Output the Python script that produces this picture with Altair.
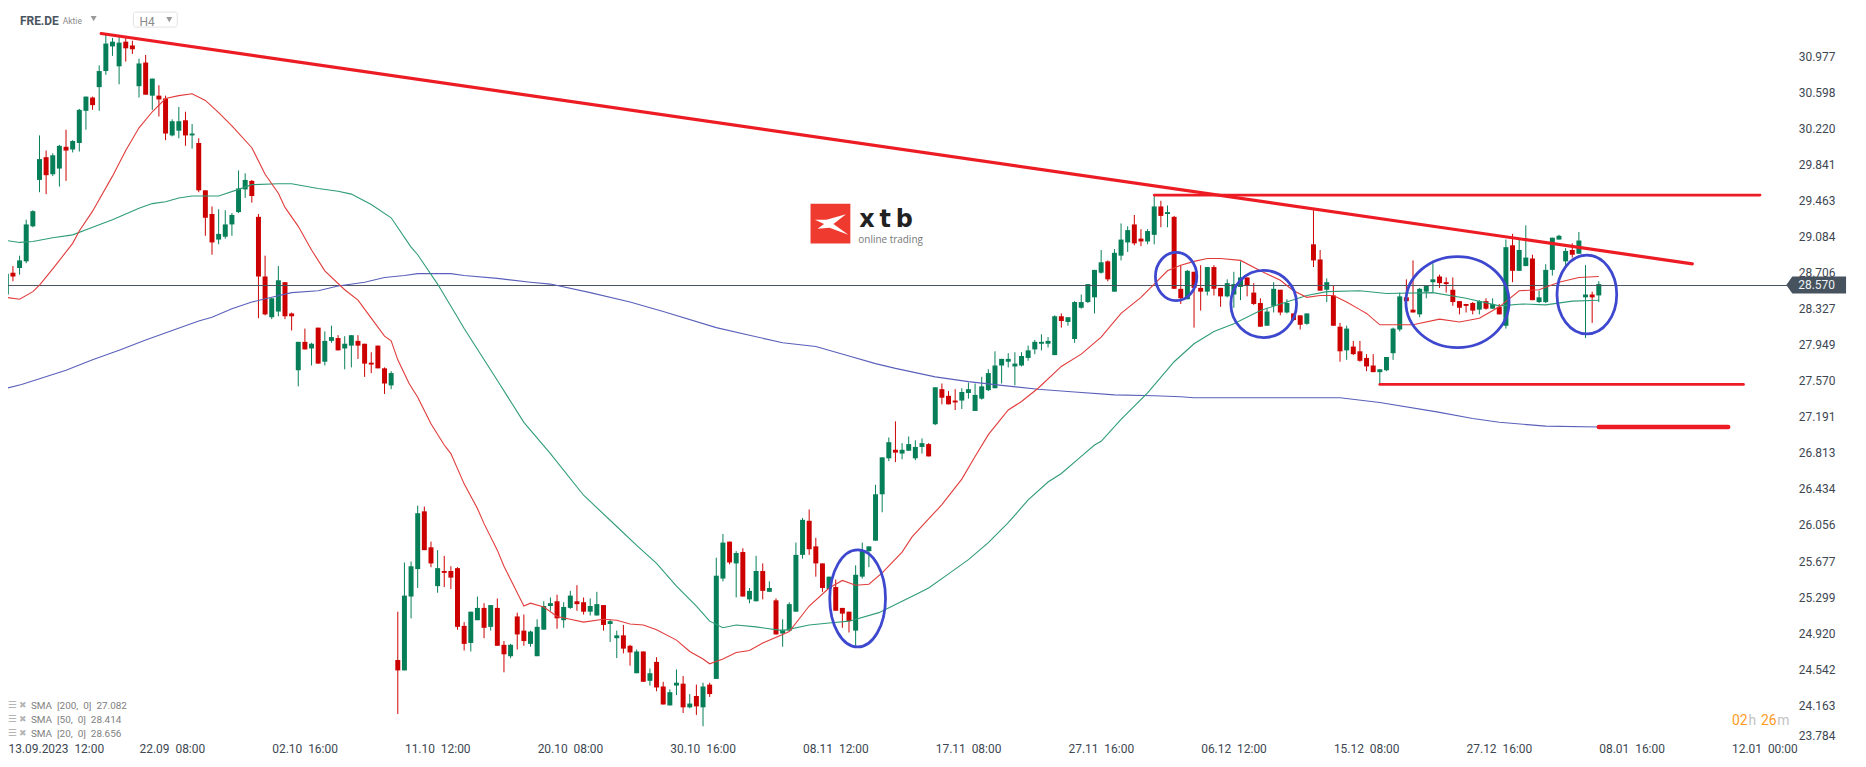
import altair as alt
import pandas as pd

# candles, one per 4h bar, prices
opens = [
    28.47, 28.70, 28.75, 28.82, 29.19, 29.68, 29.92, 29.74, 29.80, 30.03,
    30.00, 30.07, 30.41, 30.55, 30.66, 30.83, 31.09, 30.88, 31.14, 31.10,
    30.67, 30.92, 30.57, 30.57, 30.54, 30.15, 30.20, 30.31, 30.15, 30.07,
    29.57, 29.32, 29.05, 29.08, 29.21, 29.34, 29.58, 29.67, 29.29, 28.66,
    28.23, 28.29, 28.60, 28.27, 27.67, 27.97, 27.90, 28.12, 27.76, 27.98,
    28.01, 27.90, 27.93, 27.98, 27.95, 27.75, 27.93, 27.69, 27.51, 24.61,
    24.50, 25.28, 25.57, 26.18, 25.80, 25.39, 25.55, 25.55, 25.58, 24.97,
    24.79, 25.03, 25.16, 24.96, 25.16, 24.77, 24.65, 25.07, 24.92, 24.78,
    24.65, 24.93, 25.18, 25.23, 25.03, 25.16, 25.23, 25.22, 25.12, 25.08,
    25.19, 24.99, 24.84, 24.87, 24.76, 24.47, 24.70, 24.39, 24.59, 24.33,
    24.13, 24.34, 24.36, 24.11, 24.23, 24.11, 24.35, 24.41, 25.47, 25.86,
    25.63, 25.75, 25.25, 25.23, 25.55, 25.33, 25.24, 24.89, 24.92, 25.12,
    25.72, 26.08, 25.81, 25.63, 25.36, 25.38, 25.16, 25.12, 24.92, 25.49,
    25.76, 25.87, 26.36, 26.74, 26.83, 26.79, 26.82, 26.74, 26.86, 26.89,
    27.10, 27.47, 27.40, 27.35, 27.35, 27.43, 27.24, 27.37, 27.46, 27.48,
    27.72, 27.76, 27.71, 27.72, 27.80, 27.89, 27.95, 27.95, 27.83, 28.24,
    28.18, 28.00, 28.33, 28.39, 28.44, 28.70, 28.82, 28.50, 28.88, 29.02,
    29.21, 29.06, 29.03, 29.10, 29.40, 29.32, 29.29, 28.53, 28.42, 28.71,
    28.54, 28.50, 28.76, 28.54, 28.45, 28.47, 28.55, 28.65, 28.49, 28.38,
    28.14, 28.35, 28.52, 28.28, 28.27, 28.25, 28.16, 29.00, 28.84, 28.52,
    28.46, 28.13, 27.88, 27.92, 27.87, 27.80, 27.72, 27.65, 27.67, 27.85,
    28.10, 28.44, 28.31, 28.26, 28.50, 28.60, 28.66, 28.60, 28.52, 28.40,
    28.37, 28.38, 28.31, 28.40, 28.32, 28.34, 28.14, 28.99, 28.72, 28.77,
    28.85, 28.39, 28.39, 28.73, 29.05, 28.82, 28.94, 28.90, 28.44, 28.47,
    28.46,
]
closes = [
    28.69, 28.66, 28.83, 29.21, 29.35, 29.90, 29.73, 29.94, 30.04, 29.99,
    30.09, 30.42, 30.56, 30.47, 30.83, 31.12, 31.14, 31.13, 31.07, 31.06,
    30.91, 30.58, 30.75, 30.53, 30.17, 30.30, 30.30, 30.15, 30.17, 29.57,
    29.28, 29.02, 29.11, 29.21, 29.31, 29.59, 29.68, 29.51, 28.66, 28.26,
    28.43, 28.62, 28.24, 28.24, 27.97, 27.89, 27.95, 27.74, 27.98, 28.02,
    27.88, 27.95, 28.04, 27.93, 27.74, 27.73, 27.69, 27.53, 27.64, 24.50,
    25.29, 25.60, 26.16, 25.77, 25.63, 25.58, 25.53, 25.48, 24.96, 24.78,
    25.12, 25.16, 24.95, 25.19, 24.76, 24.67, 24.77, 24.88, 24.81, 24.91,
    24.96, 25.18, 25.21, 25.05, 25.17, 25.29, 25.20, 25.12, 25.18, 25.20,
    24.98, 25.02, 24.87, 24.73, 24.69, 24.70, 24.38, 24.47, 24.32, 24.14,
    24.27, 24.37, 24.11, 24.15, 24.12, 24.33, 24.25, 25.50, 25.85, 25.64,
    25.74, 25.28, 25.34, 25.55, 25.34, 25.37, 24.88, 24.93, 25.20, 25.72,
    26.09, 25.78, 25.63, 25.37, 25.49, 25.13, 25.10, 25.02, 25.51, 25.77,
    25.81, 26.36, 26.75, 26.91, 26.80, 26.83, 26.89, 26.86, 26.90, 26.76,
    27.49, 27.38, 27.31, 27.33, 27.44, 27.47, 27.41, 27.50, 27.64, 27.72,
    27.79, 27.79, 27.74, 27.82, 27.88, 27.97, 27.97, 27.98, 28.24, 28.19,
    28.23, 28.39, 28.39, 28.58, 28.73, 28.81, 28.63, 28.91, 29.05, 29.15,
    29.01, 29.03, 29.14, 29.40, 29.30, 29.34, 28.53, 28.43, 28.72, 28.54,
    28.50, 28.76, 28.53, 28.45, 28.59, 28.58, 28.65, 28.57, 28.37, 28.13,
    28.29, 28.53, 28.28, 28.38, 28.20, 28.15, 28.27, 28.83, 28.51, 28.60,
    28.14, 27.87, 28.11, 27.84, 27.77, 27.71, 27.65, 27.68, 27.81, 28.11,
    28.45, 28.40, 28.28, 28.53, 28.56, 28.63, 28.59, 28.58, 28.39, 28.33,
    28.35, 28.30, 28.40, 28.32, 28.37, 28.26, 28.97, 28.72, 28.94, 28.86,
    28.41, 28.44, 28.73, 29.07, 29.09, 28.93, 28.89, 29.04, 28.47, 28.44,
    28.58,
]
highs = [
    28.69, 28.77, 28.88, 29.26, 29.36, 30.15, 29.99, 29.96, 30.05, 30.21,
    30.10, 30.43, 30.56, 30.56, 30.89, 31.22, 31.18, 31.19, 31.18, 31.15,
    30.96, 31.00, 30.75, 30.68, 30.57, 30.32, 30.45, 30.40, 30.27, 30.12,
    29.57, 29.40, 29.37, 29.36, 29.33, 29.78, 29.75, 29.68, 29.32, 28.88,
    28.43, 28.77, 28.60, 28.28, 27.97, 28.11, 27.96, 28.12, 28.08, 28.14,
    28.04, 28.03, 28.04, 28.04, 27.95, 27.86, 27.93, 27.70, 27.66, 25.12,
    25.64, 25.65, 26.24, 26.23, 25.86, 25.77, 25.71, 25.60, 25.59, 25.01,
    25.12, 25.28, 25.21, 25.19, 25.26, 24.81, 24.78, 25.11, 25.09, 24.92,
    25.04, 25.23, 25.27, 25.30, 25.22, 25.34, 25.40, 25.27, 25.26, 25.33,
    25.19, 25.04, 24.92, 24.98, 24.77, 24.72, 24.70, 24.52, 24.64, 24.38,
    24.30, 24.51, 24.44, 24.25, 24.35, 24.37, 24.37, 25.69, 25.94, 25.86,
    25.76, 25.79, 25.37, 25.71, 25.63, 25.44, 25.26, 25.04, 25.22, 25.85,
    26.11, 26.20, 25.90, 25.63, 25.49, 25.46, 25.16, 25.12, 25.61, 25.85,
    25.81, 26.46, 26.75, 26.96, 27.13, 26.90, 26.97, 26.93, 26.95, 26.90,
    27.49, 27.53, 27.45, 27.47, 27.48, 27.54, 27.53, 27.60, 27.68, 27.87,
    27.79, 27.85, 27.86, 27.86, 27.93, 27.99, 28.05, 28.02, 28.25, 28.27,
    28.23, 28.40, 28.47, 28.58, 28.73, 28.94, 28.83, 28.95, 29.22, 29.19,
    29.31, 29.16, 29.16, 29.51, 29.46, 29.41, 29.30, 28.78, 28.73, 28.71,
    28.78, 28.76, 28.78, 28.54, 28.63, 28.71, 28.82, 28.65, 28.59, 28.43,
    28.33, 28.60, 28.52, 28.42, 28.27, 28.25, 28.27, 29.36, 28.94, 28.64,
    28.56, 28.17, 28.14, 27.98, 27.98, 27.84, 27.84, 27.68, 27.81, 28.12,
    28.49, 28.63, 28.83, 28.54, 28.57, 28.80, 28.68, 28.65, 28.65, 28.40,
    28.37, 28.39, 28.41, 28.43, 28.43, 28.37, 29.05, 29.11, 29.05, 29.20,
    28.89, 28.51, 28.79, 29.07, 29.10, 28.96, 29.01, 29.13, 28.78, 28.50,
    28.61,
]
lows = [
    28.44, 28.61, 28.68, 28.80, 29.18, 29.55, 29.53, 29.72, 29.61, 29.67,
    29.97, 29.98, 30.21, 30.42, 30.41, 30.79, 30.99, 30.69, 30.93, 31.01,
    30.55, 30.58, 30.42, 30.35, 30.10, 30.14, 30.12, 30.04, 30.01, 29.55,
    29.09, 28.89, 29.00, 29.06, 29.09, 29.33, 29.49, 29.44, 28.22, 28.25,
    28.21, 28.24, 28.21, 28.09, 27.50, 27.89, 27.72, 27.74, 27.72, 27.96,
    27.88, 27.68, 27.70, 27.79, 27.60, 27.64, 27.69, 27.42, 27.47, 24.04,
    24.50, 25.05, 25.37, 25.77, 25.59, 25.32, 25.38, 25.36, 24.93, 24.71,
    24.70, 25.03, 24.84, 24.92, 24.76, 24.48, 24.63, 24.72, 24.76, 24.75,
    24.65, 24.93, 25.13, 24.94, 24.95, 25.15, 25.13, 25.09, 25.08, 25.08,
    24.92, 24.80, 24.63, 24.68, 24.55, 24.47, 24.38, 24.34, 24.28, 24.14,
    24.13, 24.24, 24.05, 24.10, 24.03, 23.91, 24.22, 24.41, 25.44, 25.62,
    25.27, 25.28, 25.21, 25.23, 25.25, 25.33, 24.88, 24.75, 24.92, 25.12,
    25.68, 25.72, 25.49, 25.33, 25.36, 25.13, 24.95, 24.90, 24.76, 25.47,
    25.59, 25.87, 26.17, 26.71, 26.70, 26.73, 26.82, 26.72, 26.79, 26.76,
    27.09, 27.31, 27.31, 27.25, 27.26, 27.37, 27.24, 27.36, 27.45, 27.48,
    27.53, 27.70, 27.51, 27.71, 27.77, 27.84, 27.88, 27.91, 27.83, 28.12,
    28.14, 27.96, 28.32, 28.38, 28.27, 28.69, 28.61, 28.50, 28.83, 28.92,
    28.99, 28.98, 29.00, 29.00, 29.18, 29.18, 28.53, 28.37, 28.42, 28.12,
    28.30, 28.46, 28.46, 28.34, 28.44, 28.33, 28.41, 28.45, 28.36, 28.13,
    28.14, 28.28, 28.25, 28.27, 28.19, 28.10, 28.15, 28.76, 28.51, 28.39,
    28.14, 27.76, 27.78, 27.83, 27.76, 27.66, 27.65, 27.51, 27.66, 27.78,
    28.08, 28.38, 28.28, 28.23, 28.43, 28.49, 28.54, 28.49, 28.35, 28.26,
    28.28, 28.26, 28.26, 28.31, 28.32, 28.26, 28.11, 28.60, 28.72, 28.77,
    28.41, 28.38, 28.38, 28.67, 29.05, 28.78, 28.86, 28.90, 28.01, 28.17,
    28.39,
]

# moving averages as (bar index, price)
sma20_i = [0, 2, 4, 5, 7, 10, 11, 13, 16, 18, 20, 22, 24, 26, 28, 30, 32, 34, 37, 39,
           41, 42, 44, 46, 48, 51, 53, 55, 57, 58, 59, 60.7, 62, 64, 66, 67, 69, 71, 72, 74,
           75, 77, 78, 79, 81, 83, 85, 87, 90, 92, 94, 96, 98, 101, 103, 105, 106, 108, 110, 112,
           114, 117, 118, 121, 124, 126, 128, 130, 132, 135, 136.5, 139, 141, 144, 146, 148, 151, 153, 155.5, 159,
           162, 165, 168, 171, 173, 175, 177, 179, 181, 183, 186, 189, 192, 194, 196, 198, 200, 202, 204, 205,
           207, 209, 212, 216, 219, 222, 225, 228, 231, 234, 237, 240]
sma20_p = [28.44, 28.42, 28.50, 28.57, 28.74, 29.01, 29.14, 29.35, 29.72, 29.99, 30.23, 30.40, 30.54, 30.57, 30.59, 30.52, 30.39, 30.25, 30.02, 29.74,
           29.54, 29.39, 29.19, 28.94, 28.72, 28.52, 28.41, 28.22, 28.03, 27.98, 27.78, 27.53, 27.385, 27.105, 26.88, 26.79, 26.47, 26.21, 26.05, 25.77,
           25.60, 25.32, 25.18, 25.21, 25.17, 25.07, 25.04, 25.01, 25.04, 25.03, 24.99, 24.98, 24.93, 24.82, 24.70, 24.62, 24.57, 24.62, 24.69, 24.71,
           24.79, 24.88, 24.91, 25.18, 25.37, 25.45, 25.40, 25.41, 25.53, 25.75, 25.91, 26.10, 26.25, 26.52, 26.76, 26.99, 27.25, 27.34, 27.48, 27.71,
           27.84, 28.02, 28.27, 28.44, 28.58, 28.72, 28.78, 28.82, 28.85, 28.85, 28.83, 28.72, 28.62, 28.51, 28.44, 28.46, 28.46, 28.39, 28.31, 28.27,
           28.15, 28.15, 28.15, 28.21, 28.18, 28.22, 28.34, 28.51, 28.52, 28.60, 28.65, 28.66]

sma50_i = [0, 2, 4, 7, 10, 13, 16, 20, 22, 24, 26, 28, 32, 35, 37, 41, 43, 47, 50, 52,
           55, 58, 61, 62, 65, 68, 69, 74.3, 78, 82, 87, 92, 95, 98, 101, 104, 106, 108, 110, 113,
           117, 121, 124, 127, 131.5, 135, 137, 139, 142, 145, 148, 151, 154, 157, 159, 162, 164, 165, 168, 172,
           176, 179, 182, 185, 189, 192, 196, 199, 204, 208, 215, 220, 225, 228.5, 232, 236, 240]
sma50_p = [29.04, 29.02, 29.03, 29.07, 29.10, 29.18, 29.26, 29.38, 29.43, 29.45, 29.49, 29.51, 29.51, 29.58, 29.63, 29.64, 29.64, 29.59, 29.56, 29.53,
           29.42, 29.28, 28.97, 28.89, 28.58, 28.23, 28.11, 27.53, 27.12, 26.79, 26.35, 26.02, 25.82, 25.63, 25.39, 25.18, 25.02, 24.95, 24.98, 24.96,
           24.92, 24.98, 25.00, 25.02, 25.11, 25.23, 25.30, 25.37, 25.52, 25.67, 25.85, 26.06, 26.30, 26.49, 26.58, 26.76, 26.88, 26.92, 27.15, 27.43,
           27.76, 27.95, 28.08, 28.16, 28.30, 28.37, 28.46, 28.50, 28.51, 28.48, 28.49, 28.43, 28.35, 28.37, 28.36, 28.40, 28.41]

sma200_i = [0, 2.3, 9, 13, 17, 21, 25, 29, 31, 34, 37, 40, 43, 47, 50, 54, 57, 60, 62, 67,
            69, 74, 79, 82, 88, 94, 99, 107, 112, 117, 122, 127, 131, 134, 140, 145, 150, 155.5, 161, 167,
            173, 177, 179, 201, 207, 215.6, 221, 225, 232, 240]
sma200_p = [27.48, 27.52, 27.67, 27.78, 27.88, 27.99, 28.09, 28.19, 28.23, 28.32, 28.39, 28.44, 28.49, 28.51, 28.56, 28.60, 28.65, 28.67, 28.69, 28.69,
            28.67, 28.64, 28.60, 28.58, 28.49, 28.39, 28.29, 28.12, 28.04, 27.96, 27.92, 27.82, 27.74, 27.69, 27.60, 27.55, 27.51, 27.47, 27.44, 27.41,
            27.40, 27.39, 27.38, 27.38, 27.33, 27.23, 27.16, 27.12, 27.08, 27.07]

# drawn trendlines: start and end as (bar index, price)
trend_names = ["down", "top", "bottom", "sma"]
trend_i0 = [14.3, 173, 207, 240]
trend_i1 = [254.1, 264.3, 261.8, 259.5]
trend_p0 = [31.226, 29.52, 27.52, 27.07]
trend_p1 = [28.794, 29.52, 27.52, 27.07]
trend_w = [3.2, 2.8, 2.8, 4.5]

# blue circles: centre (bar index, price) and radii in pixels
oval_i = [128.3, 176.3, 189.5, 218.7, 238.2]
oval_p = [25.26, 28.66, 28.37, 28.39, 28.47]
oval_rx = [28, 20.8, 33, 51.8, 30]
oval_ry = [48.7, 24.2, 33.7, 45.7, 39.5]

y_ticks = [30.977, 30.598, 30.220, 29.841, 29.463, 29.084, 28.706, 28.327, 27.949, 27.570,
           27.191, 26.813, 26.434, 26.056, 25.677, 25.299, 24.920, 24.542, 24.163, 23.846]
x_labels = ["13.09.2023\u00a0\u00a012:00", "22.09\u00a0\u00a008:00", "02.10\u00a0\u00a016:00", "11.10\u00a0\u00a012:00",
            "20.10\u00a0\u00a008:00", "30.10\u00a0\u00a016:00", "08.11\u00a0\u00a012:00", "17.11\u00a0\u00a008:00",
            "27.11\u00a0\u00a016:00", "06.12\u00a0\u00a012:00", "15.12\u00a0\u00a008:00", "27.12\u00a0\u00a016:00",
            "08.01\u00a0\u00a016:00", "12.01\u00a0\u00a000:00"]
last_price = 28.57

GREEN = "#067f58"
RED = "#cd0000"
LINE_RED = "#ed1c24"
BLUE = "#3e48cf"
FONT = "Roboto"
x_start = 0.255
# padding=0: bars on a linear x otherwise get 5px added to each end of the range
x_scale = alt.Scale(domain=[x_start, 268.41], nice=False, zero=False, padding=0)
y_scale = alt.Scale(domain=[23.772, 31.467], nice=False, zero=False)


def rd(p):
    # the prices above were read with 36px per axis step, the axis really has 36.2
    return 29.463 - (29.463 - pd.Series(p, dtype=float)) * 95.1 / 95.65


x_axis = alt.Axis(
    values=[x_start] + [20 * n for n in range(1, len(x_labels))],
    labelExpr="[" + ",".join("'%s'" % s for s in x_labels) + "][round(datum.value/20)]",
    title=None, domain=False, ticks=False, grid=False, labelAlign="left", labelPadding=1,
    labelFont=FONT, labelFontSize=12, labelColor="#3d4752", labelOverlap=False,
    labelBound=False, labelFlush=False,
)
y_axis = alt.Axis(
    values=y_ticks, orient="right",
    labelExpr="datum.value < 23.9 ? '23.784' : format(datum.value, '.3f')",
    title=None, domain=False, ticks=False, grid=False, labelAlign="left", labelPadding=11,
    labelFont=FONT, labelFontSize=12, labelColor="#3d4752", labelOverlap=False, labelBound=False,
)
X = alt.X("i:Q", scale=x_scale, axis=x_axis)
Y = alt.Y("p:Q", scale=y_scale, axis=y_axis)

candles = pd.DataFrame({"i": range(len(opens)), "o": rd(opens), "c": rd(closes), "h": rd(highs), "l": rd(lows)})
candles["up"] = candles.c >= candles.o
candles["top"] = candles[["o", "c"]].max(axis=1)
candles["bot"] = candles[["o", "c"]].min(axis=1)
up_color = alt.Color("up:N", scale=alt.Scale(domain=[True, False], range=[GREEN, RED]), legend=None)

wicks = alt.Chart(candles).mark_rule(strokeWidth=1).encode(
    x=X,
    y=alt.Y("l:Q", scale=y_scale, axis=y_axis),
    y2="h:Q",
    color=up_color,
)
bodies = alt.Chart(candles).mark_bar(size=5).encode(
    x=X,
    y=alt.Y("bot:Q", scale=y_scale, axis=y_axis),
    y2="top:Q",
    color=up_color,
)


def sma_line(idx, price, color):
    df = pd.DataFrame({"i": idx, "p": rd(price)})
    return alt.Chart(df).mark_line(color=color, strokeWidth=1.1).encode(x=X, y=Y)


def trend_line(n):
    df = pd.DataFrame({"i": [trend_i0[n], trend_i1[n]], "p": rd([trend_p0[n], trend_p1[n]])})
    return alt.Chart(df).mark_line(color=LINE_RED, strokeWidth=trend_w[n], strokeCap="round").encode(x=X, y=Y)


def oval(n):
    # vega draws a custom shape at sqrt(size)/2, so 10000 gives units of 1/50 px
    a, b = oval_rx[n] / 50, oval_ry[n] / 50
    ka, kb = a * 0.5523, b * 0.5523
    path = (f"M {-a} 0 C {-a} {-kb} {-ka} {-b} 0 {-b} C {ka} {-b} {a} {-kb} {a} 0 "
            f"C {a} {kb} {ka} {b} 0 {b} C {-ka} {b} {-a} {kb} {-a} 0 Z")
    df = pd.DataFrame({"i": [oval_i[n]], "p": rd([oval_p[n]])})
    return alt.Chart(df).mark_point(shape=path, size=10000, filled=False, stroke=BLUE,
                                    strokeWidth=2.8, opacity=1).encode(x=X, y=Y)


def label(text, x, y, size=12, color="#3d4752", weight="normal", font=FONT):
    df = pd.DataFrame({"t": [text]})
    return alt.Chart(df).mark_text(align="left", baseline="middle", fontSize=size, color=color,
                                   fontWeight=weight, font=font).encode(
        x=alt.value(x - 8), y=alt.value(y - 8), text="t:N")


def marker(shape, x, y, size, color):
    df = pd.DataFrame({"t": [0]})
    return alt.Chart(df).mark_point(shape=shape, size=size, filled=True, color=color, opacity=1).encode(
        x=alt.value(x - 8), y=alt.value(y - 8))


price_line = alt.Chart(pd.DataFrame({"p": [last_price]})).mark_rule(color="#46535e", strokeWidth=1).encode(y=Y)
tag_path = "M -0.60 0 L -0.48 -0.17 L 0.60 -0.17 L 0.60 0.17 L -0.48 0.17 Z"
x_path = "M -0.78 -0.2 L -0.2 -0.2 L 0.78 -0.48 L 0.15 0.02 L 0.9 0.55 L -0.05 0.2 L -0.65 0.25 L -0.32 0.02 Z"

h4_box = alt.Chart(pd.DataFrame({"t": [0]})).mark_rect(
    fill="white", stroke="#e2e2e2", strokeWidth=1, cornerRadius=2
).encode(x=alt.value(134 - 8), x2=alt.value(178 - 8), y=alt.value(10.5 - 8), y2=alt.value(25.5 - 8))

texts = [
    label("FRE.DE", 20, 19, 12, "#4a5560", "bold"),
    label("Aktie", 63, 19.5, 8.5, "#8a8a8a"),
    marker("triangle-down", 94, 17, 36, "#9a9a9a"),
    h4_box,
    label("H4", 140, 20, 12, "#8a8a8a"),
    marker("triangle-down", 170, 18, 36, "#9a9a9a"),
    marker("square", 834, 223, 1600, "#ef3a2f"),
    marker(x_path, 834, 223, 1600, "white"),
    label("x\u2009t\u2009b", 863, 219, 24, "#222222", "bold", "DejaVu Sans"),
    label("online trading", 862, 239, 10, "#777777", "normal", "Open Sans"),
    marker(tag_path, 1824, 284.5, 10000, "#46535e"),
    label("28.570", 1806, 285, 12, "#eef1f3"),
    label("02", 1739.5, 722, 14, "#ff9a1e"),
    label("h", 1756, 722, 14, "#c4c4c4"),
    label("26", 1768.5, 722, 14, "#ff9a1e"),
    label("m", 1785, 722, 14, "#c4c4c4"),
]
for y, s in zip([707.5, 721.5, 735.5], ["SMA\u00a0\u00a0[200,\u00a0\u00a00]\u00a0\u00a027.082",
                                         "SMA\u00a0\u00a0[50,\u00a0\u00a00]\u00a0\u00a028.414",
                                         "SMA\u00a0\u00a0[20,\u00a0\u00a00]\u00a0\u00a028.656"]):
    texts.append(label("\u2630", 8, y - 1, 10, "#b5b5b5", "normal", "DejaVu Sans"))
    texts.append(label("\u2716", 19, y - 1, 9, "#b5b5b5", "normal", "DejaVu Sans"))
    texts.append(label(s, 31, y, 10, "#808080"))

chart = alt.layer(
    wicks,
    bodies,
    price_line,
    sma_line(sma200_i, sma200_p, "#5a60ba"),
    sma_line(sma50_i, sma50_p, "#2f9c78"),
    sma_line(sma20_i, sma20_p, "#e23b3b"),
    *[trend_line(n) for n in range(len(trend_names))],
    *[oval(n) for n in range(len(oval_i))],
    *texts,
).properties(
    width=1787,
    height=736,
    padding={"left": 0, "top": 0, "right": 71, "bottom": 17},
    autosize=alt.AutoSizeParams(type="none"),
    background="white",
).configure_view(stroke=None)

chart.save("out.html", embed_options={"renderer": "svg", "actions": False})
